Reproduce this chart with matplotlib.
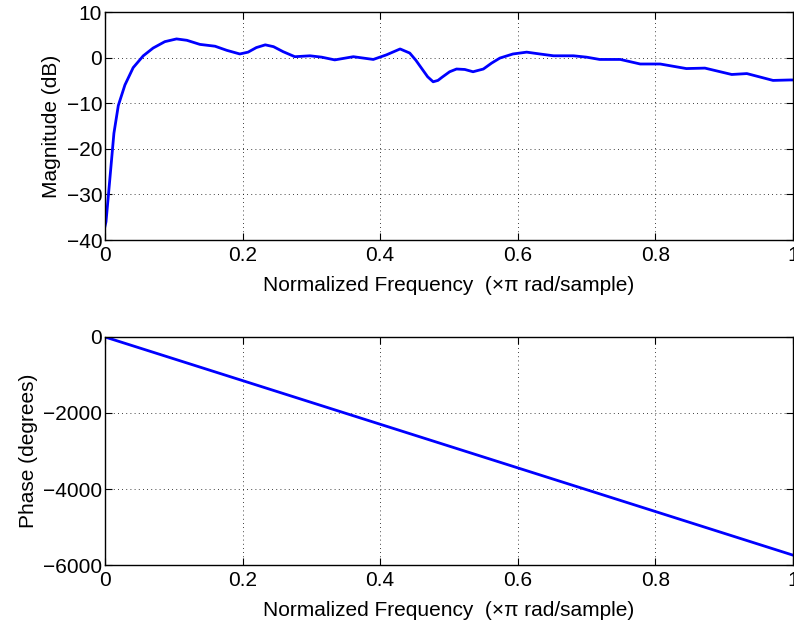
import numpy as np
import matplotlib.pyplot as plt

plt.rcParams['font.family'] = ['Liberation Sans', 'DejaVu Sans']

# magnitude response
freq = [0.0, 0.0015, 0.0048, 0.0087, 0.013, 0.0194, 0.029, 0.041, 0.0557, 0.070,
        0.087, 0.104, 0.119, 0.138, 0.160, 0.177, 0.196, 0.208, 0.220, 0.233,
        0.245, 0.259, 0.276, 0.298, 0.315, 0.334, 0.361, 0.390, 0.409, 0.429,
        0.443, 0.452, 0.460, 0.469, 0.477, 0.484, 0.490, 0.501, 0.511, 0.523,
        0.535, 0.550, 0.562, 0.574, 0.593, 0.613, 0.632, 0.652, 0.681, 0.700,
        0.719, 0.749, 0.778, 0.807, 0.845, 0.872, 0.911, 0.933, 0.971, 0.996, 1.0]
mag_db = [-37.0, -36.0, -30.5, -23.9, -16.6, -10.5, -6.0, -2.2, 0.4, 2.1,
          3.5, 4.1, 3.8, 2.9, 2.5, 1.6, 0.8, 1.2, 2.2, 2.8,
          2.4, 1.3, 0.2, 0.4, 0.1, -0.5, 0.2, -0.4, 0.6, 1.9,
          1.0, -0.6, -2.3, -4.2, -5.3, -5.0, -4.3, -3.1, -2.5, -2.6,
          -3.1, -2.5, -1.2, -0.1, 0.8, 1.2, 0.8, 0.4, 0.4, 0.1,
          -0.4, -0.4, -1.4, -1.4, -2.4, -2.3, -3.7, -3.5, -5.0, -4.9, -4.9]

# linear phase
phase_f = [0.0, 1.0]
phase_deg = [0.0, -5740.0]

fig = plt.figure(figsize=(7.94, 6.26), dpi=100)
ax1 = fig.add_axes([0.1322, 0.6166, 0.8665, 0.3642])
ax2 = fig.add_axes([0.1322, 0.0974, 0.8665, 0.3643])

xlab = 'Normalized Frequency  (\u00d7\u03c0 rad/sample)'

ax1.plot(freq, mag_db, color='#0000ff', lw=2, solid_joinstyle='round')
ax1.set_xlim(0, 1)
ax1.set_ylim(-40, 10)
ax1.set_yticks([-40, -30, -20, -10, 0, 10])
ax1.set_ylabel('Magnitude (dB)', labelpad=4)
ax1.set_xlabel(xlab, labelpad=8)

ax2.plot(phase_f, phase_deg, color='#0000ff', lw=2)
ax2.set_xlim(0, 1)
ax2.set_ylim(-6000, 0)
ax2.set_yticks([-6000, -4000, -2000, 0])
ax2.set_ylabel('Phase (degrees)', labelpad=4)
ax2.set_xlabel(xlab, labelpad=8)

for ax in (ax1, ax2):
    ax.set_xticks([0, 0.2, 0.4, 0.6, 0.8, 1])
    ax.set_xticklabels(['0', '0.2', '0.4', '0.6', '0.8', '1'])
    ax.grid(True, color='black', linestyle=(0, (1, 4)), linewidth=0.6)
    ax.tick_params(direction='in', top=True, right=True, labelsize=15,
                   length=5, pad=2)
    ax.tick_params(axis='x', pad=4)
    ax.xaxis.label.set_size(15)
    ax.yaxis.label.set_size(15)
    for s in ax.spines.values():
        s.set_linewidth(1)

fig.savefig('out.png', dpi=100)
